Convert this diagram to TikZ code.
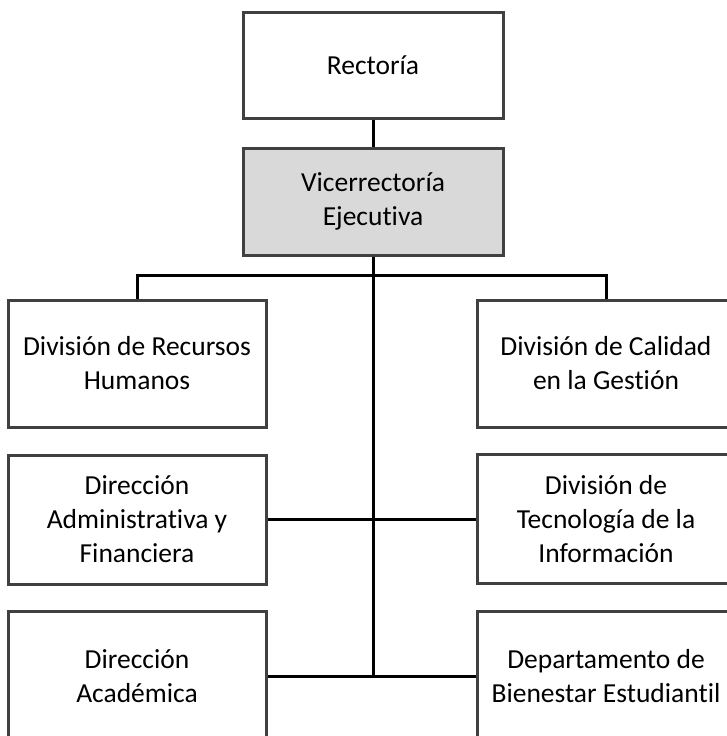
\documentclass[tikz,border=0pt]{standalone}
\usepackage{fontspec}
\setmainfont{Carlito}[Ligatures=NoCommon]
\definecolor{boxline}{HTML}{404040}
\definecolor{boxgray}{HTML}{D9D9D9}
\begin{document}
\begin{tikzpicture}[
    x=1pt, y=-1pt,
    box/.style={rectangle, draw=boxline, line width=3pt, fill=white, minimum width=258pt, minimum height=129pt, align=center, inner sep=2pt, font=\fontsize{27.5}{34}\selectfont},
    conn/.style={line width=3pt, black},
]
\useasboundingbox (0,0) rectangle (727,736);
\clip (0,0) rectangle (727,736);

% top
\node[box, minimum width=260pt, minimum height=106pt] (rect) at (373,65) {Rector\'ia};
\node[box, fill=boxgray, minimum width=260pt, minimum height=107pt] (vice) at (373,201.5) {Vicerrector\'ia\\Ejecutiva};

% left column
\node[box, minimum height=127pt] (l1) at (137,363.5) {Divisi\'on de Recursos\\Humanos};
\node[box] (l2) at (137,519.5) {Direcci\'on\\Administrativa y\\Financiera};
\node[box] (l3) at (137,676) {Direcci\'on\\Acad\'emica};

% right column
\node[box, minimum height=127pt] (r1) at (606,363.5) {Divisi\'on de Calidad\\en la Gesti\'on};
\node[box] (r2) at (606,519) {Divisi\'on de\\Tecnolog\'ia de la\\Informaci\'on};
\node[box] (r3) at (606,676) {Departamento de\\Bienestar Estudiantil};

% connectors
\draw[conn] (rect.south) -- (vice.north);
\draw[conn] (l1.north) -- ++(0,-23) -| (r1.north);
\draw[conn] (vice.south) -- (vice.south |- l3.east);
\draw[conn] (l2.east) -- (r2.west |- l2.east);
\draw[conn] (l3.east) -- (r3.west);
\end{tikzpicture}
\end{document}
